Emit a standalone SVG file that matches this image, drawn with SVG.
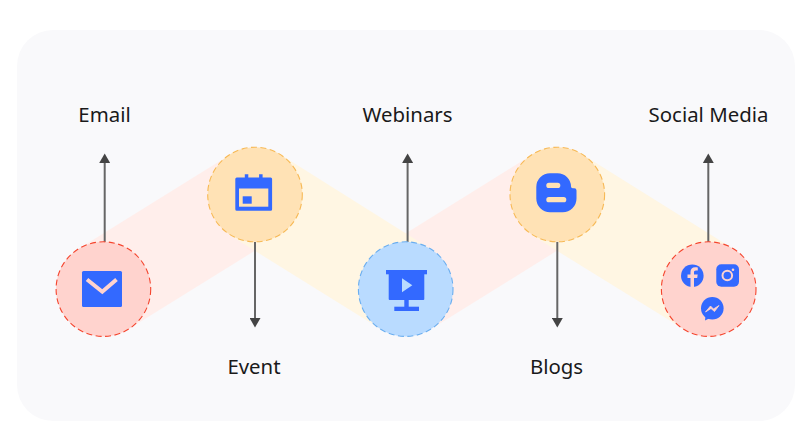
<svg xmlns="http://www.w3.org/2000/svg" width="800" height="443" viewBox="0 0 800 443">
<defs>
<style>
.lbl{font-family:"Noto Sans","Open Sans",sans-serif;font-size:20.400px;fill:#1a1a1a;text-anchor:middle}
.conn{stroke:#666;stroke-width:2;fill:none;marker-end:url(#arr)}
.ic{fill:#3369ff}
.red{fill:#ffd3ce;stroke:#f5452e;stroke-width:1.100;stroke-dasharray:6 3.500}
.org{fill:#ffe2b5;stroke:#f7b955;stroke-width:1.100;stroke-dasharray:6 3.500}
.blu{fill:#b9dbff;stroke:#6aaef0;stroke-width:1.100;stroke-dasharray:6 3.500}
</style>
<marker id="arr" markerUnits="userSpaceOnUse" markerWidth="10" markerHeight="11" refX="0" refY="5.500" orient="auto"><path d="M0 0L9.500 5.500L0 11Z" fill="#444"/></marker>
</defs>
<rect x="17" y="30" width="778" height="391" rx="36" fill="#f9f9fb"/>
<g id="ribbons">
<path d="M78.300 249L230 154.800L280 235.100L128.300 329.300Z" fill="#ffeeeb"/>
<path d="M532 154.800L380.700 249L430.700 329.300L582 235.100Z" fill="#ffeeeb"/>
<path d="M280 154.300L431 249.300L381 329.300L230 235.300Z" fill="#fff6e3"/>
<path d="M582 154.300L734 249.300L684 329.300L532 235.300Z" fill="#fff6e3"/>
</g>
<g id="connectors">
<path class="conn" d="M104.700 242V163"/>
<path class="conn" d="M255 242V318"/>
<path class="conn" d="M407.600 242V163"/>
<path class="conn" d="M557.300 242V318"/>
<path class="conn" d="M708.300 242V163"/>
</g>
<g id="node-email">
<circle class="red" cx="103.400" cy="289.100" r="47.300"/>
<rect class="ic" x="82" y="271" width="40" height="36" rx="1.500"/>
<path d="M87 279.500L102.300 291.700L116.500 279.500" fill="none" stroke="#ffd3ce" stroke-width="4"/>
<text class="lbl" x="104.500" y="121.500">Email</text>
</g>
<g id="node-event">
<circle class="org" cx="255" cy="194.500" r="47.300"/>
<path class="ic" d="M235.300 179a1.500 1.500 0 0 1 1.500-1.500h8v-3.300h3.500v3.300h10.800v-3.300h3.500v3.300h8a1.500 1.500 0 0 1 1.500 1.500v30.200a1.500 1.500 0 0 1-1.500 1.500h-33.800a1.500 1.500 0 0 1-1.500-1.500Z"/>
<rect x="239" y="188.500" width="29.300" height="18.200" fill="#ffe2b5"/>
<rect class="ic" x="242.700" y="196.300" width="9" height="7.400"/>
<text class="lbl" x="254" y="373.700">Event</text>
</g>
<g id="node-webinars">
<circle class="blu" cx="405.700" cy="289.100" r="47.300"/>
<rect class="ic" x="386" y="270" width="41" height="4.300"/>
<rect class="ic" x="388.700" y="272" width="35.600" height="28" rx="1"/>
<rect class="ic" x="404.300" y="299" width="4.400" height="8"/>
<rect class="ic" x="394.300" y="306.700" width="24.700" height="4.300"/>
<path d="M402 278.300L412.300 285.300L402 292.300Z" fill="#b9dbff"/>
<text class="lbl" x="407.500" y="121.500">Webinars</text>
</g>
<g id="node-blogs">
<circle class="org" cx="557.300" cy="194.500" r="47.300"/>
<path class="ic" d="M536.300 187a13.700 13.700 0 0 1 13.700-13.700h7.500a13.500 13.500 0 0 1 13.500 13v.3a1.700 1.700 0 0 0 1.700 1.700h1.600a2.200 2.200 0 0 1 2.200 2.200v8a13.800 13.800 0 0 1-13.800 13.800h-12.700a13.700 13.700 0 0 1-13.700-13.700Z"/>
<rect x="546.300" y="182.700" width="14" height="5.300" rx="2.600" fill="#ffe2b5"/>
<rect x="546.300" y="197" width="20" height="5.300" rx="2.600" fill="#ffe2b5"/>
<text class="lbl" x="556.500" y="373.700">Blogs</text>
</g>
<g id="node-social">
<circle class="red" cx="708.700" cy="289.100" r="47.300"/>
<circle class="ic" cx="692.300" cy="275.700" r="11.300"/>
<path d="M694 287v-9h3.200l.5-3.500H694v-2.200c0-1.100.5-1.800 1.900-1.800h1.900v-3c-.6-.1-1.600-.2-2.700-.2-2.800 0-4.600 1.700-4.600 4.700v2.500h-3v3.500h3v9Z" fill="#ffd3ce"/>
<rect class="ic" x="716.300" y="264.300" width="22.700" height="22.500" rx="5"/>
<circle cx="727.300" cy="275.500" r="4.800" fill="none" stroke="#ffd3ce" stroke-width="2"/>
<circle cx="733" cy="269.700" r="1.300" fill="#ffd3ce"/>
<circle class="ic" cx="712.300" cy="308.300" r="11.300"/>
<path class="ic" d="M705.500 316l-.5 4.500l5-2.500Z"/>
<path d="M705.500 312L710.500 306L713.500 309L719 305.500L714.500 311.500L711 308.500Z" fill="#ffd3ce" stroke="#ffd3ce" stroke-width=".8"/>
<text class="lbl" x="708.500" y="121.500">Social Media</text>
</g>
</svg>
